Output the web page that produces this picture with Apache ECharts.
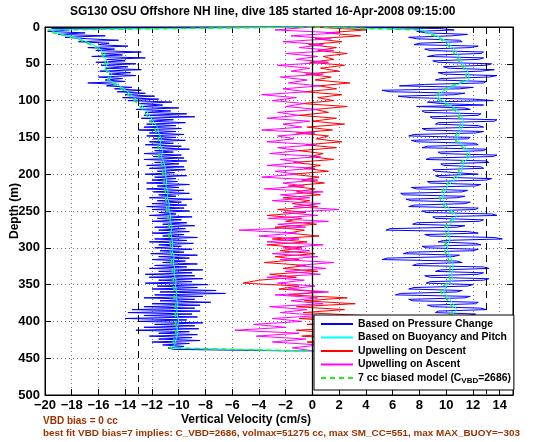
<!DOCTYPE html>
<html>
<head>
<meta charset="utf-8">
<script src="https://cdn.jsdelivr.net/npm/echarts@6/dist/echarts.min.js"></script>
<style>
html,body{margin:0;padding:0;background:#fff;}
#chart{width:554px;height:442px;}
</style>
</head>
<body>
<div id="chart"></div>
<script>
// ---------------- DATA ----------------
const titleText = 'SG130 OSU Offshore NH line, dive 185 started 16-Apr-2008 09:15:00';
const xAxisTitle = 'Vertical Velocity (cm/s)';
const yAxisTitle = 'Depth (m)';
const noteLine1 = 'VBD bias = 0 cc';
const noteLine2 = 'best fit VBD bias=7 implies: C_VBD=2686, volmax=51275 cc, max SM_CC=551, max MAX_BUOY=\u2212303';
const seriesNames = ['Based on Pressure Change', 'Based on Buoyancy and Pitch', 'Upwelling on Descent', 'Upwelling on Ascent', '7 cc biased model (C_VBD=2686)'];

const xMin = -20, xMax = 15, xStep = 2;
const yMin = 0, yMax = 500, yStep = 50;
const dashedRefX = [-13, 13];
const zeroRefX = [0];

// 2 m depth grid for pressure-based velocity
const depthBlue = [0,2,4,6,8,10,12,14,16,18,20,22,24,26,28,30,32,34,36,38,40,42,44,46,48,50,52,54,56,58,60,62,64,66,68,70,72,74,76,78,80,82,84,86,88,90,92,94,96,98,100,102,104,106,108,110,112,114,116,118,120,122,124,126,128,130,132,134,136,138,140,142,144,146,148,150,152,154,156,158,160,162,164,166,168,170,172,174,176,178,180,182,184,186,188,190,192,194,196,198,200,202,204,206,208,210,212,214,216,218,220,222,224,226,228,230,232,234,236,238,240,242,244,246,248,250,252,254,256,258,260,262,264,266,268,270,272,274,276,278,280,282,284,286,288,290,292,294,296,298,300,302,304,306,308,310,312,314,316,318,320,322,324,326,328,330,332,334,336,338,340,342,344,346,348,350,352,354,356,358,360,362,364,366,368,370,372,374,376,378,380,382,384,386,388,390,392,394,396,398,400,402,404,406,408,410,412,414,416,418,420,422,424,426,428,430,432,434,436,438,440];

// pressure-based velocity, descent (cm/s)
const blueDown = [
 0,-19.5,-18.2,-19.8,-17,-19,-15.5,-18.5,-16.8,-14.5,
 -17.5,-15.2,-16,-13.8,-16.8,-14.8,-16.2,-12.8,-15.8,-14.2,
 -16.5,-12.5,-15.4,-14,-16.2,-13.2,-15.8,-13.8,-15.5,-12.8,
 -15.9,-13.6,-15.2,-13.2,-16,-14.2,-15.5,-14,-16.8,-14.5,
 -15.4,-13.5,-14.8,-12.8,-14.6,-12.5,-14,-11.8,-14.2,-11.5,
 -13.8,-10.5,-13,-11.2,-12.8,-10,-13.2,-10.6,-12.5,-9.4,
 -12.6,-8.8,-12.8,-10.4,-12.2,-9.5,-12.4,-10.2,-12.6,-9.8,
 -13,-10.2,-12.2,-9.6,-12.4,-10.2,-11.9,-9.5,-12.2,-10.4,
 -12.5,-9.8,-12,-9.2,-11.8,-10.4,-12.6,-9.8,-11.9,-9.6,
 -12.6,-9.4,-11.8,-10,-12.4,-9.6,-12.2,-9.5,-11.6,-10.3,
 -12.5,-9.4,-11.8,-10.2,-12,-10.1,-12.4,-9.2,-11.6,-10,
 -12.4,-9.6,-11.9,-9.2,-11.5,-10.2,-12.2,-9,-11.6,-9.8,
 -12,-9.4,-12.4,-9.6,-12,-9.2,-11.5,-10.2,-12.2,-9,
 -11.6,-9.8,-12,-9.4,-11.2,-8.8,-11.8,-9.5,-11.5,-9.2,
 -12,-9.6,-11.2,-8.6,-11.8,-9.4,-12.2,-8.9,-11.5,-9.8,
 -11.8,-9,-11.4,-9.6,-12.1,-8.6,-11.5,-9.2,-12,-9.5,
 -11.2,-8.6,-11.8,-9.4,-12.2,-8.2,-11.5,-9,-12.5,-8.8,
 -12.2,-8.2,-11.5,-9,-12.5,-7.8,-11.6,-8.6,-12,-7.2,
 -11.4,-6.5,-11.8,-8.2,-12.6,-8.8,-11.4,-7.6,-12,-8.4,
 -12.6,-8.8,-13.5,-8.4,-13.8,-9,-12.6,-8.6,-14,-9.4,
 -13,-8.2,-11.8,-8.8,-12.6,-8.5,-13.2,-9.2,-11.5,-8.6,
 -12.2,-9,-11.5,-8.4,-12,-9.2,-11.2,-9.6,-10.8,-10.4,
 -2];
// pressure-based velocity, ascent (listed by increasing depth)
const blueUp = [
 0,9.5,10.6,7.8,8.5,11.6,10.4,7.2,7.8,11,
 11.2,8,7.6,12.4,11.8,8.4,8.8,12.8,12.6,9.2,
 8.6,12.8,12.4,9,9.4,13.4,13,9.8,10.2,13.6,
 12.6,9.4,9.8,13.8,13.2,9.6,9.2,13,12.8,8.4,
 6.5,12,11,5.2,5.8,11.4,10.6,6.4,7.4,12,
 13.5,8.6,9.6,12.8,7.8,11.4,11.8,8.2,8.4,12.6,
 12.4,8.8,9,13.8,13.6,9.4,9.2,12.4,12.8,8.2,
 8.5,12.8,12.2,7.6,7.2,11.8,11.6,7.4,7.8,12.2,
 12.4,8.6,8.2,13,12.8,9.4,9.6,13.8,13.5,8.8,
 8.5,13,13.2,9.6,9.8,12.6,12.8,9,9.2,12.4,
 12.4,9.2,9.5,13.4,13,8.6,8.8,12.6,12.2,7.4,
 7.8,11.6,11.2,6.6,6.8,11.4,10.8,7,7.4,11.8,
 11.4,7.6,7.2,12.4,12.2,8.2,8.5,13.4,13.8,9,
 9.2,12.8,12.5,7.8,7.5,11.4,10.8,5.8,5.5,11.6,
 12.4,8.4,8.8,13.6,14.2,9.8,9.4,12.2,12.6,8.2,
 8.5,12.4,12,7.2,6.8,11,10.5,5.6,5.2,10.8,
 11.2,7.8,7.5,12.8,13.2,9.6,9.2,12.8,12.4,8.4,
 8.8,13.2,12.8,8.8,8.5,12,11.6,7.6,7.2,11.2,
 10.8,6.6,6.2,11.8,11.4,7.2,7.5,12.4,12.2,8.6,
 9,12.6,13,9.4,9.2,12.2,11.6,8.2,8.6,12.4,
 12,9,9.4,12.8,12.5,8.6,8.2,12.2,11.8,8.8,
 9,12.4,12,8.2,8.5,11.8,11.5,8.8,9,10.2,
 0.5];

// 4 m depth grid for upwelling estimates
const depthFine = [0,4,8,12,16,20,24,28,32,36,40,44,48,52,56,60,64,68,72,76,80,84,88,92,96,100,104,108,112,116,120,124,128,132,136,140,144,148,152,156,160,164,168,172,176,180,184,188,192,196,200,204,208,212,216,220,224,228,232,236,240,244,248,252,256,260,264,268,272,276,280,284,288,292,296,300,304,308,312,316,320,324,328,332,336,340,344,348,352,356,360,364,368,372,376,380,384,388,392,396,400,404,408,412,416,420,424,428,432,436,440];
// upwelling on descent
const redDown = [0,4,1,3.6,0.2,2.2,-0.3,1.8,0.4,2.6,0.8,1.6,-0.2,2.4,0.6,2,-0.5,1.4,0.2,2.8,0.5,1.8,-0.6,2.2,0.4,1.6,-0.8,2.6,0.2,1.2,-1,1.8,0,2.4,-0.4,1.5,-1.2,1.2,0.3,2.2,-0.5,1.8,-1,0.8,-0.2,1.6,-1.4,0.6,-0.6,1.2,-1.6,0.5,-0.8,0.9,-1.8,0.2,-1.2,0.6,-2.2,-0.2,-1.5,0.4,-2.6,-0.5,-3.4,-0.8,-2,0.3,-2.8,-0.6,-1.8,0.5,-3,-0.4,-3.4,-0.8,-2.4,0.2,-2.8,-1,-3.6,-0.5,-2.2,0.4,-3.2,-1.2,-4,-5.2,-1,-2.5,0.8,-1.8,2.6,-0.6,3.2,-1.2,2.4,-0.7,3.8,-1,2.2,-0.4,3,-1.2,1.6,-0.8,2.8,-0.4,1.2,0.5,0];
// upwelling on ascent (listed by increasing depth)
const magentaUp = [0,-2.8,2,-1.6,1.4,-2.2,0.8,-1,1.6,-2,0.4,-1.2,1.2,-2.6,-0.2,-1.6,0.8,-2.4,-0.4,-1.8,0.6,-2.2,-0.4,-3.8,-1.2,-3,-0.6,-2,0.4,-2.6,-1,-3.4,-0.2,-2.2,-0.8,-3.8,0.2,-2.6,-1.4,-3.4,0.3,-2.6,-1,-3.2,0.6,-2.4,-0.8,-3.4,0.2,-2.8,-1.2,-3.8,0.4,-2.2,-0.6,-3.6,0.8,-2.4,-0.2,-3,0.6,-1.4,2,-2.2,0.4,-3.3,1.2,-2.6,-0.5,-5.5,-1.2,-4,-1,-3.4,0.8,-2.2,-0.2,-3,0.4,-2.4,1.6,-1.2,1,-2,0.6,-3.4,-0.6,-2.6,0.2,-1.8,1.2,-2.8,0.4,-1.6,0.8,-3.2,-0.4,-2.4,0.6,-3,-0.8,-4.4,-2,-5.8,-1,-4.2,-0.5,-3,0.5,-1.5,0];

// coarse depth grid for model curves
const depthCoarse = [0,4,8,12,16,20,24,28,32,36,40,48,56,64,72,80,88,96,104,112,120,128,136,144,152,160,168,176,184,192,200,208,216,224,232,240,248,256,264,272,280,288,296,304,312,320,328,336,344,352,360,368,376,384,392,400,408,416,424,432,436,440];
const cyanDown = [0,-19.6,-19.2,-18.2,-17.4,-16.9,-16.4,-16.0,-15.8,-15.5,-15.6,-15.3,-15.5,-15.0,-15.2,-14.4,-13.8,-13.3,-12.9,-12.5,-12.2,-11.9,-11.6,-11.5,-11.3,-11.4,-11.2,-11.3,-11.1,-11.0,-11.0,-10.9,-10.95,-10.8,-10.85,-10.7,-10.75,-10.6,-10.65,-10.5,-10.6,-10.5,-10.45,-10.5,-10.35,-10.4,-10.3,-10.35,-10.2,-10.25,-10.15,-10.2,-10.05,-10.15,-10.1,-10.0,-10.15,-10.05,-10.2,-10.3,-10.6,-1.0];
const cyanUp = [0,8.3,8.8,9.3,9.7,10.1,10.3,10.5,10.7,10.8,11.0,11.2,11.5,11.7,11.7,10.6,9.7,9.4,10.1,10.8,11.1,11.3,11.2,11.0,10.8,11.2,11.7,11.8,11.3,11.2,11.1,10.6,10.1,9.9,9.7,9.9,10.3,10.8,10.5,10.1,10.2,10.3,10.1,10.1,10.3,10.5,10.5,10.4,10.5,10.0,9.8,10.2,10.5,10.8,10.4,10.2,10.1,10.0,9.9,9.8,9.6,0.5];
const greenDown = [0,-19.8,-19.4,-18.5,-17.6,-17.1,-16.6,-16.2,-15.9,-15.7,-15.7,-15.5,-15.6,-15.2,-15.3,-14.6,-14.0,-13.5,-13.1,-12.7,-12.4,-12.1,-11.8,-11.7,-11.5,-11.6,-11.4,-11.5,-11.3,-11.2,-11.2,-11.1,-11.1,-11.0,-11.0,-10.9,-10.9,-10.8,-10.8,-10.7,-10.75,-10.7,-10.6,-10.65,-10.5,-10.55,-10.45,-10.5,-10.4,-10.4,-10.3,-10.35,-10.2,-10.3,-10.25,-10.2,-10.3,-10.2,-10.35,-10.45,-10.7,-1.2];
const greenUp = [0,8.1,8.6,9.1,9.5,9.9,10.1,10.3,10.5,10.6,10.8,11.0,11.3,11.5,11.5,10.4,9.5,9.2,9.9,10.6,10.9,11.1,11.0,10.8,10.6,11.0,11.5,11.6,11.1,11.0,10.9,10.4,9.9,9.7,9.5,9.7,10.1,10.6,10.3,9.9,10.0,10.1,9.9,9.9,10.1,10.3,10.3,10.2,10.3,9.8,9.6,10.0,10.3,10.6,10.2,10.0,9.9,9.8,9.7,9.6,9.4,0.5];

// ---------------- BUILD ----------------
function pairs(vals, depths) { return vals.map((v, i) => [v, depths[i]]); }
function roundTrip(down, up, depths) {
  return pairs(down, depths).concat(pairs(up, depths).reverse());
}
const FONT = '"Liberation Sans", Arial, Helvetica, sans-serif';
const fmt = v => (v === xMax ? '' : (v < 0 ? '\u2212' + Math.abs(v) : String(v)));

const chart = echarts.init(document.getElementById('chart'), null, {renderer: 'canvas'});
const gridLine = {show: true, lineStyle: {color: '#7a7a7a', width: 1, type: [1, 3]}};
const bold = (size, color) => ({fontFamily: FONT, fontSize: size, fontWeight: 'bold', color: color || '#000'});
const option = {
  animation: false,
  backgroundColor: '#fff',
  textStyle: {fontFamily: FONT},
  title: [
    {text: titleText, left: 70, top: 6, padding: 0, textStyle: bold(12)},
    {text: xAxisTitle, left: 181, top: 414, padding: 0, textStyle: bold(12)},
    {text: noteLine1, left: 43, top: 416, padding: 0, textStyle: bold(10, '#993300')},
    {text: noteLine2, left: 43, top: 428, padding: 0, textStyle: bold(9.9, '#993300')}
  ],
  grid: {left: 45, right: 41, top: 27, bottom: 47, outerBoundsMode: 'none', containLabel: false,
         show: true, borderColor: '#000', borderWidth: 1, backgroundColor: '#fff'},
  legend: {
    orient: 'vertical', left: 314, top: 315, z: 20,
    data: seriesNames,
    itemWidth: 32, itemHeight: 12, itemGap: 1.5,
    padding: [3, 3, 5, 6],
    backgroundColor: '#fff', borderColor: '#000', borderWidth: 1,
    itemStyle: {opacity: 0},
    textStyle: Object.assign(bold(10.4), {lineHeight: 12,
      rich: {sub: Object.assign(bold(8), {padding: [6, 0, 0, 0]}), n: bold(10.4)}}),
    formatter: name => name === seriesNames[4] ? '{n|7 cc biased model (C}{sub|VBD}{n|=2686)}' : name
  },
  xAxis: [
    {type: 'value', min: xMin, max: xMax, interval: xStep, position: 'bottom',
     axisLine: {show: true, onZero: false, lineStyle: {color: '#000'}},
     axisTick: {show: true, inside: true, length: 6, lineStyle: {color: '#000'}},
     axisLabel: Object.assign(bold(13), {formatter: fmt, margin: 4}),
     splitLine: gridLine},
    {type: 'value', min: xMin, max: xMax, interval: xStep, position: 'top',
     axisLine: {show: true, onZero: false, lineStyle: {color: '#000'}},
     axisTick: {show: true, inside: true, length: 6, lineStyle: {color: '#000'}},
     axisLabel: {show: false}, splitLine: {show: false}}
  ],
  yAxis: [
    {type: 'value', min: yMin, max: yMax, interval: yStep, inverse: true, position: 'left',
     name: yAxisTitle, nameLocation: 'middle', nameGap: 24, nameMoveOverlap: false,
     nameTextStyle: bold(12),
     axisLine: {show: true, onZero: false, lineStyle: {color: '#000'}},
     axisTick: {show: true, inside: true, length: 6, lineStyle: {color: '#000'}},
     axisLabel: Object.assign(bold(13), {margin: 5}),
     splitLine: gridLine},
    {type: 'value', min: yMin, max: yMax, interval: yStep, inverse: true, position: 'right',
     axisLine: {show: true, onZero: false, lineStyle: {color: '#000'}},
     axisTick: {show: true, inside: true, length: 6, lineStyle: {color: '#000'}},
     axisLabel: {show: false}, splitLine: {show: false}}
  ],
  series: [
    {name: seriesNames[0], type: 'line', data: roundTrip(blueDown, blueUp, depthBlue),
     symbol: 'none', lineStyle: {color: '#0000ff', width: 1}, itemStyle: {color: '#0000ff'},
     markLine: {silent: true, symbol: 'none', label: {show: false}, animation: false,
       data: dashedRefX.map(v => ({xAxis: v, lineStyle: {color: '#000', width: 1, type: [7, 5]}}))}},
    {name: seriesNames[1], type: 'line', data: roundTrip(cyanDown, cyanUp, depthCoarse),
     symbol: 'none', lineStyle: {color: '#00ffff', width: 1}, itemStyle: {color: '#00ffff'}},
    {name: seriesNames[2], type: 'line', data: pairs(redDown, depthFine),
     symbol: 'none', lineStyle: {color: '#ff0000', width: 1}, itemStyle: {color: '#ff0000'}},
    {name: seriesNames[3], type: 'line', data: pairs(magentaUp, depthFine),
     symbol: 'none', lineStyle: {color: '#ff00ff', width: 1}, itemStyle: {color: '#ff00ff'},
     markLine: {silent: true, symbol: 'none', label: {show: false}, animation: false,
       data: zeroRefX.map(v => ({xAxis: v, lineStyle: {color: '#000', width: 1.3, type: 'solid'}}))}},
    {name: seriesNames[4], type: 'line', data: roundTrip(greenDown, greenUp, depthCoarse),
     symbol: 'none', lineStyle: {color: '#22ee22', width: 1.5, type: [5, 4]}, itemStyle: {color: '#22ee22'}}
  ]
};
chart.setOption(option);
</script>
</body>
</html>
